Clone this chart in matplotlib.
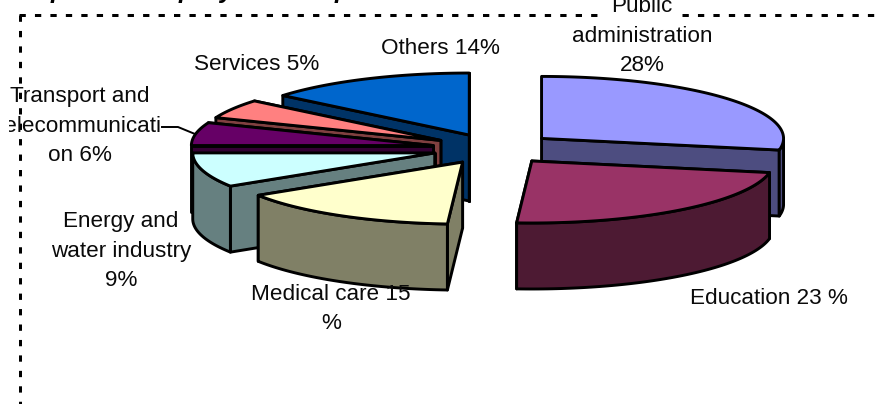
import numpy as np
import matplotlib
matplotlib.use('Agg')
import matplotlib.pyplot as plt
from matplotlib.patches import Rectangle

plt.rcParams['font.family'] = ['Liberation Sans', 'DejaVu Sans']

# clockwise from 12 o'clock
sectors = ['Public administration', 'Education', 'Medical care', 'Energy and water industry',
           'Transport and telecommunication', 'Services', 'Others']
shares = [28, 23, 15, 9, 6, 5, 14]
explode = [0.255, 0.255, 0.255, 0.255, 0.255, 0.255, 0.24]
top_colors = ['#9999FF', '#993366', '#FFFFCC', '#CCFFFF', '#660066', '#FF8080', '#0066CC']
side_colors = ['#4D4D80', '#4D1A33', '#808066', '#668080', '#330033', '#804040', '#003366']
draw_order = [6, 5, 4, 3, 0, 1, 2]  # back slices first

labels = ['Public\nadministration\n28%', 'Education 23 %', 'Medical care 15\n%',
          'Energy and\nwater industry\n9%', 'Transport and\ntelecommunicati\non 6%',
          'Services 5%', 'Others 14%']
label_x = [642, 769, 331, 121, 80, 257, 440]
label_y = [36, 298, 309, 251, 126, 65, 48]

# pie geometry in pixels
CX, CY = 494, 148.5
RX, RY = 242, 62
DEPTH = 66
EDGE = 2.1


def rim(cx, cy, angles):
    return cx + RX * np.sin(angles), cy - RY * np.cos(angles)


def face(ax, xs, ys, color, z):
    ax.fill(xs, ys, facecolor=color, edgecolor='black', linewidth=EDGE, joinstyle='round', zorder=z)


def draw_slice(ax, start, end, push, top, side, z):
    mid = (start + end) / 2
    cx = CX + push * RX * np.sin(mid)
    cy = CY - push * RY * np.cos(mid)
    arc = np.linspace(start, end, 80)
    x, y = rim(cx, cy, arc)

    # walls facing away first, then the ones towards the viewer
    walls = sorted([(start, np.sin(start) < 0), (end, np.sin(end) > 0)], key=lambda w: w[1])
    for angle, _ in walls:
        ex, ey = rim(cx, cy, angle)
        face(ax, [cx, ex, ex, cx], [cy, ey, ey + DEPTH, cy + DEPTH], side, z)

    # outer wall, only the front half of the rim shows
    lo, hi = max(start, np.pi / 2), min(end, 3 * np.pi / 2)
    if hi > lo:
        wx, wy = rim(cx, cy, np.linspace(lo, hi, 80))
        face(ax, np.r_[wx, wx[::-1]], np.r_[wy, wy[::-1] + DEPTH], side, z)

    face(ax, np.r_[cx, x], np.r_[cy, y], top, z)


fig = plt.figure(figsize=(8.81, 4.04), dpi=100)
ax = fig.add_axes([0, 0, 1, 1])
ax.set_xlim(0, 881)
ax.set_ylim(404, 0)
ax.axis('off')

# dashed frame of the slide, broken behind the clipped label
dash = dict(color='black', linewidth=2.16, linestyle=(0, (2.1, 3.05)), dash_capstyle='butt', zorder=1)
ax.plot([19, 606], [15, 15], **dash)
ax.plot([682, 881], [15, 15], **dash)
ax.plot([19.5, 19.5], [15, 404], **dash)

edges = np.r_[0, np.cumsum(shares)] / sum(shares) * 2 * np.pi
for z, i in enumerate(draw_order):
    draw_slice(ax, edges[i], edges[i + 1], explode[i], top_colors[i], side_colors[i], 2 + z * 0.1)

# leader line of the transport label
ax.plot([162, 178, 195], [127, 127, 134], color='black', linewidth=1.4, zorder=4)

for text, x, y in zip(labels, label_x, label_y):
    t = ax.text(x, y, text, ha='center', va='center', multialignment='center',
                fontsize=16.2, color='#0a0a0a', linespacing=1.53, zorder=5)
    if text.startswith('Transport'):
        # label box cuts the long word off on the left
        t.set_clip_path(Rectangle((9, 80), 160, 90, transform=ax.transData))
        t.set_clip_on(True)

# only the tails of the slide title are left at the top edge
for ch, x in zip('ppyp', [58, 186, 226, 342]):
    ax.text(x, -2, ch, ha='center', va='baseline', fontsize=18, fontweight='bold',
            fontstyle='italic', color='black')

fig.savefig('out.png', dpi=100)
